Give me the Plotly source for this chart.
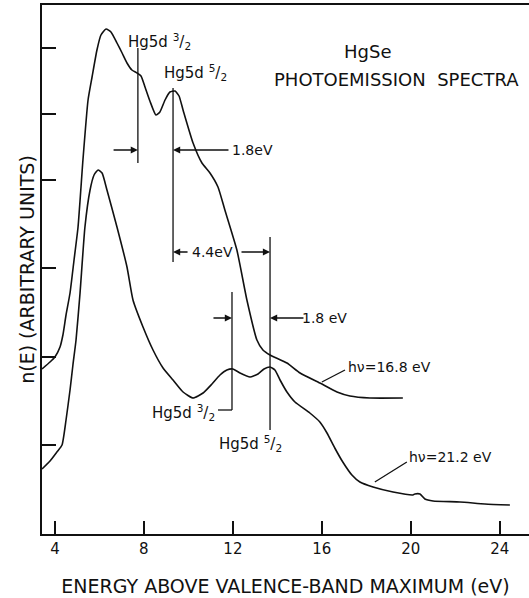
import plotly.graph_objects as go

# ---- data (y in arbitrary units) ----
x_168 = [3.42, 3.78, 4.00, 4.23, 4.36, 4.50, 4.68, 4.86, 5.04, 5.26, 5.49, 5.67, 5.89, 6.07, 6.30, 6.52,
         6.79, 7.02, 7.24, 7.46, 7.69, 7.87, 8.05, 8.27, 8.54, 8.72, 8.95, 9.17, 9.40, 9.58, 9.76,
         10.21, 10.61, 10.97, 11.33, 11.64, 12.18, 12.63, 13.08, 13.35, 13.67, 14.43, 15.02, 15.91,
         16.68, 17.26, 18.16, 19.64]
y_168 = [1.65, 1.72, 1.77, 1.87, 1.99, 2.19, 2.41, 2.74, 3.07, 3.74, 4.34, 4.57, 4.84, 4.99, 5.05, 5.02,
         4.91, 4.81, 4.71, 4.64, 4.61, 4.58, 4.47, 4.33, 4.19, 4.22, 4.34, 4.42, 4.43, 4.38, 4.24,
         3.91, 3.71, 3.61, 3.47, 3.24, 2.84, 2.34, 1.94, 1.84, 1.79, 1.71, 1.61, 1.51,
         1.42, 1.38, 1.36, 1.36]

x_212 = [3.42, 3.78, 4.09, 4.32, 4.50, 4.68, 4.81, 4.95, 5.13, 5.35, 5.58, 5.76, 5.94, 6.12, 6.34,
         6.79, 7.24, 7.51, 7.96, 8.41, 8.86, 9.31, 9.76, 10.21, 10.66, 11.06, 11.42, 11.73, 12.00,
         12.32, 12.77, 13.13, 13.40, 13.67, 13.89, 14.12, 14.43, 14.79, 15.46, 15.91, 16.23, 16.58,
         16.94, 17.35, 17.71, 18.30, 19.20, 20.09, 20.18, 20.41, 20.63, 21.00, 22.21, 23.33, 24.45]
y_212 = [0.65, 0.73, 0.82, 0.89, 1.14, 1.44, 1.69, 1.94, 2.41, 3.07, 3.44, 3.59, 3.64, 3.61, 3.44,
         3.07, 2.67, 2.34, 2.07, 1.84, 1.66, 1.54, 1.42, 1.36, 1.41, 1.50, 1.59, 1.64, 1.65,
         1.61, 1.57, 1.60, 1.65, 1.67, 1.64, 1.54, 1.42, 1.32, 1.21, 1.12, 1.01, 0.86,
         0.72, 0.59, 0.52, 0.47, 0.42, 0.39, 0.40, 0.40, 0.35, 0.33, 0.32, 0.30, 0.29]

x_ticks = [4, 8, 12, 16, 20, 24]
x_ticklabels = ["4", "8", "12", "16", "20", "24"]
y_ticks = [0.89, 1.77, 2.66, 3.54, 4.20, 4.86]

FONT = "DejaVu Sans"
BLACK = "#111111"

fig = go.Figure()
line = dict(color=BLACK, width=1.6, shape="spline", smoothing=0.5)
fig.add_trace(go.Scatter(x=x_168, y=y_168, mode="lines", line=line, hoverinfo="skip"))
fig.add_trace(go.Scatter(x=x_212, y=y_212, mode="lines", line=line, hoverinfo="skip"))

shapes = []
def seg(x0, y0, x1, y1):
    shapes.append(dict(type="line", xref="x", yref="y", x0=x0, y0=y0, x1=x1, y1=y1,
                       line=dict(color=BLACK, width=1.3)))

# marker lines
seg(7.73, 4.86, 7.73, 3.71)
seg(9.31, 4.46, 9.31, 2.72)
seg(13.67, 2.97, 13.67, 1.04)
seg(11.96, 2.42, 11.96, 1.24)
seg(11.33, 1.24, 11.96, 1.24)
# leader lines
seg(17.04, 1.64, 16.00, 1.52)
seg(19.82, 0.72, 18.38, 0.52)

ann = []
def arrow(x_head, y, x_tail):
    ann.append(dict(x=x_head, y=y, ax=x_tail, ay=y, xref="x", yref="y", axref="x", ayref="y",
                    text="", showarrow=True, arrowhead=2, arrowsize=1.1, arrowwidth=1.3,
                    arrowcolor=BLACK))

def label(x, y, text, size=14, xanchor="center"):
    ann.append(dict(x=x, y=y, xref="x", yref="y", text=text, showarrow=False,
                    font=dict(family=FONT, size=size, color=BLACK), xanchor=xanchor,
                    yanchor="middle"))

arrow(7.73, 3.84, 6.57)
arrow(9.31, 3.84, 11.87)
arrow(9.31, 2.82, 10.03)
arrow(13.67, 2.82, 12.32)
arrow(11.96, 2.16, 11.06)
arrow(13.67, 2.16, 15.24)

label(8.70, 4.93, "Hg5d <sup>3</sup>/<sub>2</sub>", size=15)
label(10.30, 4.62, "Hg5d <sup>5</sup>/<sub>2</sub>", size=15)
label(9.80, 1.22, "Hg5d <sup>3</sup>/<sub>2</sub>", size=15)
label(12.81, 0.91, "Hg5d <sup>5</sup>/<sub>2</sub>", size=15)
label(12.86, 3.84, "1.8eV")
label(16.14, 2.16, "1.8 eV")
label(11.10, 2.82, "4.4eV")
label(19.06, 1.67, "hν=16.8 eV")
label(21.80, 0.77, "hν=21.2 eV")
label(18.07, 4.83, "HgSe", size=18)
label(19.37, 4.55, "PHOTOEMISSION  SPECTRA", size=18)

fig.update_layout(
    width=529, height=598,
    margin=dict(l=42, r=0, t=5, b=64),
    paper_bgcolor="white", plot_bgcolor="white",
    showlegend=False,
    shapes=shapes, annotations=ann,
    font=dict(family=FONT, color=BLACK),
    xaxis=dict(range=[3.42, 25.31], tickvals=x_ticks, ticktext=x_ticklabels,
               ticks="inside", ticklen=13, tickwidth=1.5, tickcolor=BLACK,
               showline=True, linecolor=BLACK, linewidth=1.6, mirror=True,
               showgrid=False, zeroline=False,
               tickfont=dict(family=FONT, size=15, color=BLACK),
               title=dict(text="ENERGY ABOVE VALENCE-BAND MAXIMUM (eV)",
                          font=dict(family=FONT, size=19, color=BLACK), standoff=23)),
    yaxis=dict(range=[0, 5.29], tickvals=y_ticks, showticklabels=False,
               ticks="inside", ticklen=14, tickwidth=1.5, tickcolor=BLACK,
               showline=True, linecolor=BLACK, linewidth=1.6, mirror=False,
               showgrid=False, zeroline=False,
               title=dict(text="n(E) (ARBITRARY UNITS)",
                          font=dict(family=FONT, size=19, color=BLACK), standoff=1)),
)

fig.write_html("out.html", config={"displayModeBar": False},
               post_script="document.body.style.margin='0px';")
